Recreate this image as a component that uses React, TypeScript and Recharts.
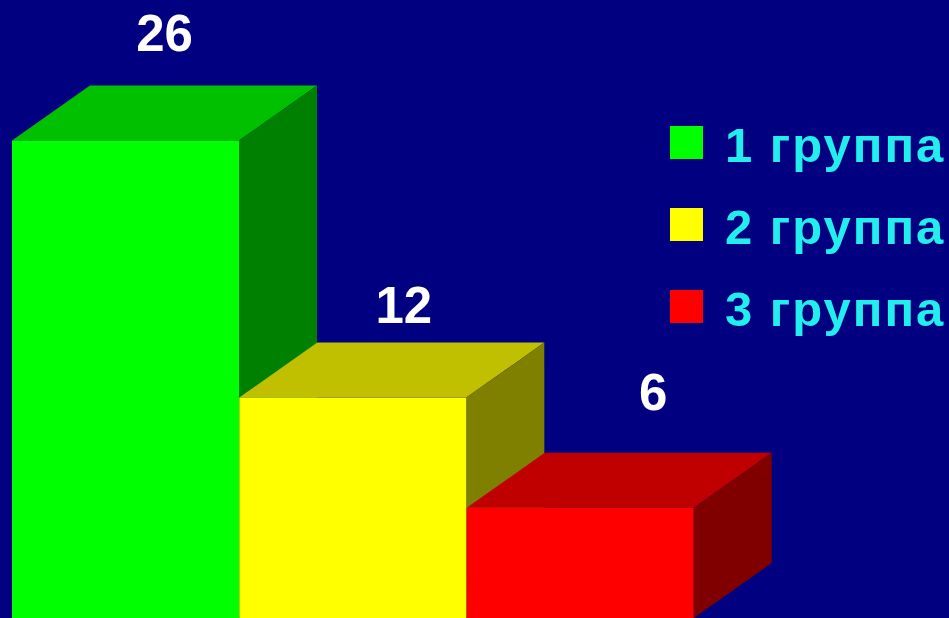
import React from "react";
import { BarChart, Bar, XAxis, YAxis, LabelList, Legend } from "recharts";

const groups = ["1 группа", "2 группа", "3 группа"];
const counts = [26, 12, 6];

const frontColors = ["#00ff00", "#ffff00", "#ff0000"];
const topColors = ["#00c000", "#c0c000", "#c00000"];
const sideColors = ["#008000", "#808000", "#800000"];
// small per-label nudges, the original placed them a bit unevenly
const labelShiftX = [0, 12, 34];
const labelShiftY = [-4, 10, -13];

// depth of the fake 3d extrusion
const DX = 78;
const DY = 55;
const FONT = "'Liberation Sans', Arial, sans-serif";

const data = groups.map((name, i) => ({ name, value: counts[i] }));

const Box3D = (props: any) => {
  const { x, y, width, height } = props;
  const i = props.index ?? groups.indexOf(props.payload?.name);
  const x2 = x + width;
  const yb = y + height;
  return (
    <g>
      <polygon
        points={`${x},${y} ${x + DX},${y - DY} ${x2 + DX},${y - DY} ${x2},${y}`}
        fill={topColors[i]}
      />
      <polygon
        points={`${x2},${y} ${x2 + DX},${y - DY} ${x2 + DX},${yb - DY} ${x2},${yb}`}
        fill={sideColors[i]}
      />
      <rect x={x} y={y} width={width} height={height} fill={frontColors[i]} />
    </g>
  );
};

const ValueLabel = (props: any) => {
  const { x, y, width } = props.viewBox ?? props;
  const i = props.index ?? counts.indexOf(props.value);
  return (
    <text
      x={x + width / 2 + DX / 2 + (labelShiftX[i] ?? 0)}
      y={y - DY - 30 + (labelShiftY[i] ?? 0)}
      textAnchor="middle"
      fill="#ffffff"
      fontSize={51}
      fontWeight="bold"
      fontFamily={FONT}
    >
      {props.value}
    </text>
  );
};

const GroupLegend = () => (
  <div style={{ fontFamily: FONT }}>
    {groups.map((g, i) => (
      <div
        key={g}
        style={{ display: "flex", alignItems: "center", height: 82 }}
      >
        <div
          style={{
            width: 33,
            height: 33,
            background: frontColors[i],
            marginRight: 22,
          }}
        />
        <span
          style={{
            color: "#22eeee",
            fontSize: 49,
            fontWeight: "bold",
            lineHeight: "49px",
            letterSpacing: 2,
            marginTop: 7,
            whiteSpace: "nowrap",
          }}
        >
          {g}
        </span>
      </div>
    ))}
  </div>
);

export default function App() {
  return (
    <div
      style={{
        position: "fixed",
        left: 0,
        top: 0,
        width: 949,
        height: 618,
        background: "#000080",
        overflow: "hidden",
      }}
    >
      <BarChart
        width={949}
        height={618}
        data={data}
        margin={{ top: 67, right: 255, bottom: 0, left: 12 }}
        barCategoryGap={0}
      >
        <XAxis dataKey="name" hide />
        <YAxis domain={[0, 30]} hide />
        <Legend
          layout="vertical"
          align="center"
          verticalAlign="middle"
          wrapperStyle={{ left: 670, top: 101, width: 279 }}
          content={<GroupLegend />}
        />
        <Bar dataKey="value" shape={<Box3D />} isAnimationActive={false}>
          <LabelList dataKey="value" content={<ValueLabel />} />
        </Bar>
      </BarChart>
    </div>
  );
}
